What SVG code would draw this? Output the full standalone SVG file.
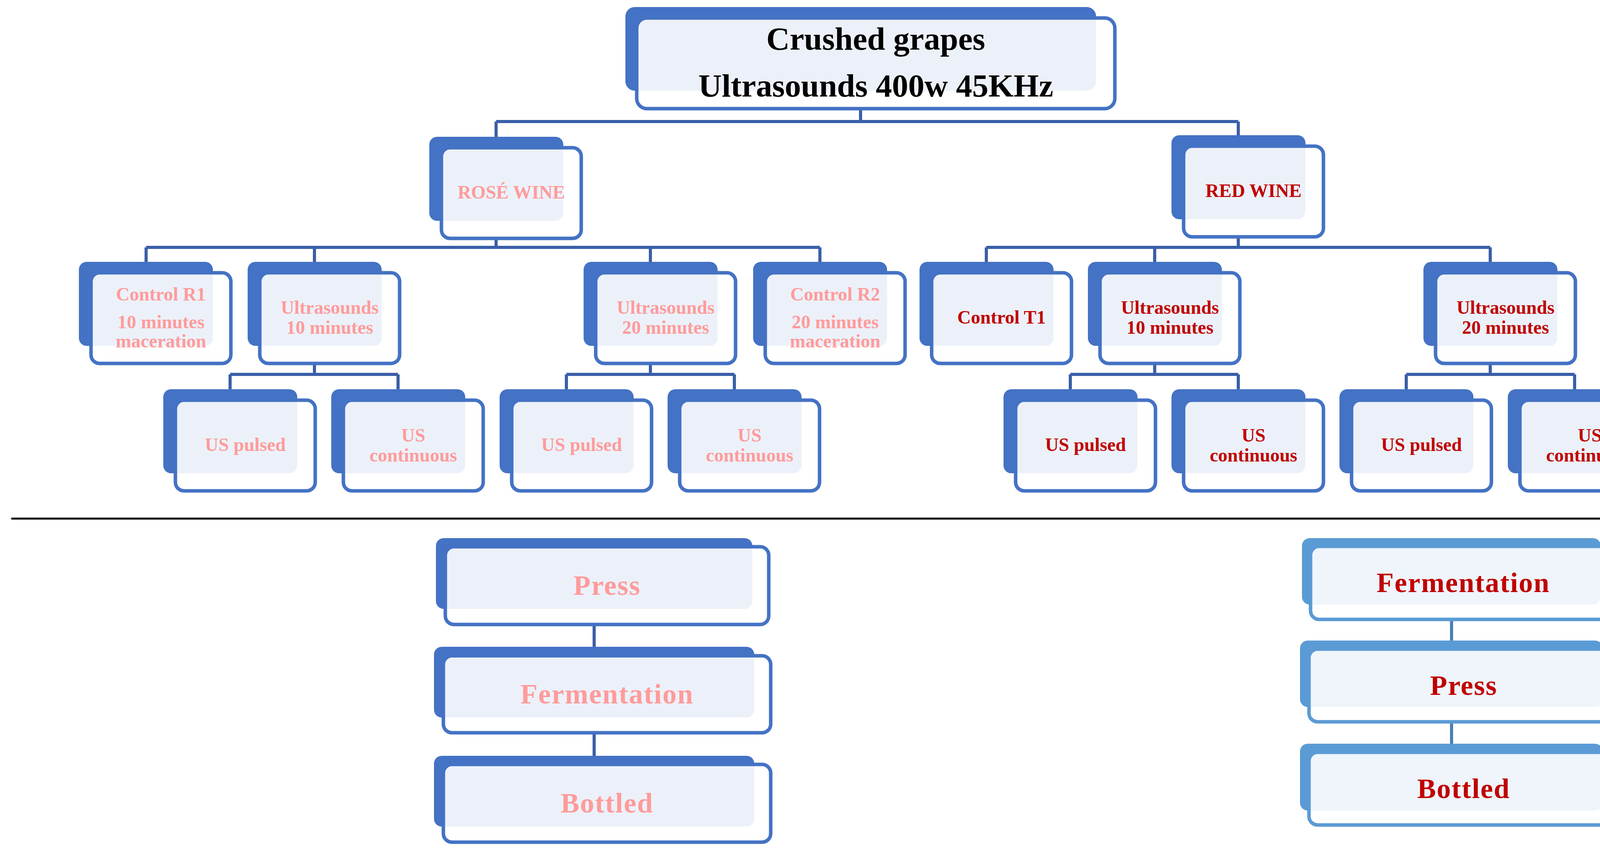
<svg xmlns="http://www.w3.org/2000/svg" width="4462" height="2175" viewBox="0 0 4462 2175">
<style>
.bk{fill:#4472C4}
.fr{fill:#fff;fill-opacity:0.9;stroke:#4472C4;stroke-width:9}
.bk2{fill:#5B9BD5}
.fr2{fill:#fff;fill-opacity:0.9;stroke:#5B9BD5;stroke-width:9}
.cn{fill:none;stroke:#3B5FA8;stroke-width:8}
.cn2{fill:none;stroke:#4A7EB5;stroke-width:8}
text{font-family:"Liberation Serif","Times New Roman",serif;font-weight:bold;text-anchor:middle}
.p{fill:#FF9B9B;font-size:48px}
.r{fill:#C00000;font-size:48px}
.pb{fill:#FF9B9B;font-size:72px;letter-spacing:2px}
.rb{fill:#C00000;font-size:72px;letter-spacing:2px}
.t{fill:#000;font-size:83px}
</style>
<g id="connectors">
<path class="cn" d="M2203 278V311M1270 311H3170M1270 311V350M3170 311V346"/>
<path class="cn" d="M1270 610V633M374 633H2099M374 633V670M805 633V670M1665 633V670M2099 633V670"/>
<path class="cn" d="M3170 604V633M2525 633H3815M2525 633V670M2956 633V670M3815 633V670"/>
<path class="cn" d="M805 930V958M589 958H1019M589 958V996M1019 958V996"/>
<path class="cn" d="M1665 930V958M1450 958H1880M1450 958V996M1880 958V996"/>
<path class="cn" d="M2956 930V958M2740 958H3170M2740 958V996M3170 958V996"/>
<path class="cn" d="M3815 930V958M3600 958H4031M3600 958V996M4031 958V996"/>
<path class="cn" d="M1521 1598V1655M1521 1875V1934"/>
<path class="cn2" d="M3716 1585V1639M3716 1847V1903"/>
<line x1="29" y1="1327" x2="4433" y2="1327" stroke="#000" stroke-width="5"/>
</g>
<g id="top"><rect class="bk" x="1601" y="18" width="1205" height="214" rx="24"/><rect class="fr" x="1630" y="46" width="1224" height="232" rx="26"/>
<text class="t" x="2242" y="127">Crushed grapes</text><text class="t" x="2242" y="247">Ultrasounds 400w 45KHz</text></g>
<g id="rose"><rect class="bk" x="1099" y="350" width="343" height="215" rx="20"/><rect class="fr" x="1130" y="378" width="358" height="232" rx="22"/><text class="p" x="1309" y="508">ROSÉ WINE</text></g>
<g id="red"><rect class="bk" x="2999" y="346" width="343" height="215" rx="20"/><rect class="fr" x="3030" y="374" width="358" height="232" rx="22"/><text class="r" x="3209" y="504">RED WINE</text></g>
<g id="cr1"><rect class="bk" x="202" y="670" width="343" height="215" rx="20"/><rect class="fr" x="233" y="698" width="358" height="232" rx="22"/><text class="p" x="412" y="769">Control R1</text><text class="p" x="412" y="840">10 minutes</text><text class="p" x="412" y="889">maceration</text></g>
<g id="ur10"><rect class="bk" x="634" y="670" width="343" height="215" rx="20"/><rect class="fr" x="665" y="698" width="358" height="232" rx="22"/><text class="p" x="844" y="803">Ultrasounds</text><text class="p" x="844" y="854">10 minutes</text></g>
<g id="ur20"><rect class="bk" x="1494" y="670" width="343" height="215" rx="20"/><rect class="fr" x="1525" y="698" width="358" height="232" rx="22"/><text class="p" x="1704" y="803">Ultrasounds</text><text class="p" x="1704" y="854">20 minutes</text></g>
<g id="cr2"><rect class="bk" x="1928" y="670" width="343" height="215" rx="20"/><rect class="fr" x="1959" y="698" width="358" height="232" rx="22"/><text class="p" x="2138" y="769">Control R2</text><text class="p" x="2138" y="840">20 minutes</text><text class="p" x="2138" y="889">maceration</text></g>
<g id="ct1"><rect class="bk" x="2354" y="670" width="343" height="215" rx="20"/><rect class="fr" x="2385" y="698" width="358" height="232" rx="22"/><text class="r" x="2564" y="828">Control T1</text></g>
<g id="ud10"><rect class="bk" x="2785" y="670" width="343" height="215" rx="20"/><rect class="fr" x="2816" y="698" width="358" height="232" rx="22"/><text class="r" x="2995" y="803">Ultrasounds</text><text class="r" x="2995" y="854">10 minutes</text></g>
<g id="ud20"><rect class="bk" x="3644" y="670" width="343" height="215" rx="20"/><rect class="fr" x="3675" y="698" width="358" height="232" rx="22"/><text class="r" x="3854" y="803">Ultrasounds</text><text class="r" x="3854" y="854">20 minutes</text></g>
<g id="r1p"><rect class="bk" x="418" y="996" width="343" height="215" rx="20"/><rect class="fr" x="449" y="1024" width="358" height="232" rx="22"/><text class="p" x="628" y="1154">US pulsed</text></g>
<g id="r1c"><rect class="bk" x="848" y="996" width="343" height="215" rx="20"/><rect class="fr" x="879" y="1024" width="358" height="232" rx="22"/><text class="p" x="1058" y="1130">US</text><text class="p" x="1058" y="1181">continuous</text></g>
<g id="r2p"><rect class="bk" x="1279" y="996" width="343" height="215" rx="20"/><rect class="fr" x="1310" y="1024" width="358" height="232" rx="22"/><text class="p" x="1489" y="1154">US pulsed</text></g>
<g id="r2c"><rect class="bk" x="1709" y="996" width="343" height="215" rx="20"/><rect class="fr" x="1740" y="1024" width="358" height="232" rx="22"/><text class="p" x="1919" y="1130">US</text><text class="p" x="1919" y="1181">continuous</text></g>
<g id="d1p"><rect class="bk" x="2569" y="996" width="343" height="215" rx="20"/><rect class="fr" x="2600" y="1024" width="358" height="232" rx="22"/><text class="r" x="2779" y="1154">US pulsed</text></g>
<g id="d1c"><rect class="bk" x="2999" y="996" width="343" height="215" rx="20"/><rect class="fr" x="3030" y="1024" width="358" height="232" rx="22"/><text class="r" x="3209" y="1130">US</text><text class="r" x="3209" y="1181">continuous</text></g>
<g id="d2p"><rect class="bk" x="3429" y="996" width="343" height="215" rx="20"/><rect class="fr" x="3460" y="1024" width="358" height="232" rx="22"/><text class="r" x="3639" y="1154">US pulsed</text></g>
<g id="d2c"><rect class="bk" x="3860" y="996" width="343" height="215" rx="20"/><rect class="fr" x="3891" y="1024" width="358" height="232" rx="22"/><text class="r" x="4070" y="1130">US</text><text class="r" x="4070" y="1181">continuous</text></g>
<g id="rpress"><rect class="bk" x="1116" y="1377" width="810" height="181" rx="20"/><rect class="fr" x="1140" y="1399" width="828" height="199" rx="22"/><text class="pb" x="1554" y="1522">Press</text></g>
<g id="rferm"><rect class="bk" x="1111" y="1655" width="820" height="181" rx="20"/><rect class="fr" x="1135" y="1678" width="838" height="197" rx="22"/><text class="pb" x="1554" y="1800">Fermentation</text></g>
<g id="rbott"><rect class="bk" x="1111" y="1934" width="820" height="181" rx="20"/><rect class="fr" x="1135" y="1956" width="838" height="199" rx="22"/><text class="pb" x="1554" y="2079">Bottled</text></g>
<g id="dferm"><rect class="bk2" x="3333" y="1377" width="765" height="170" rx="20"/><rect class="fr2" x="3355" y="1398" width="783" height="187" rx="22"/><text class="rb" x="3746" y="1515">Fermentation</text></g>
<g id="dpress"><rect class="bk2" x="3328" y="1639" width="775" height="170" rx="20"/><rect class="fr2" x="3351" y="1661" width="792" height="186" rx="22"/><text class="rb" x="3747" y="1778">Press</text></g>
<g id="dbott"><rect class="bk2" x="3328" y="1903" width="775" height="171" rx="20"/><rect class="fr2" x="3351" y="1925" width="792" height="186" rx="22"/><text class="rb" x="3747" y="2042">Bottled</text></g>
</svg>
